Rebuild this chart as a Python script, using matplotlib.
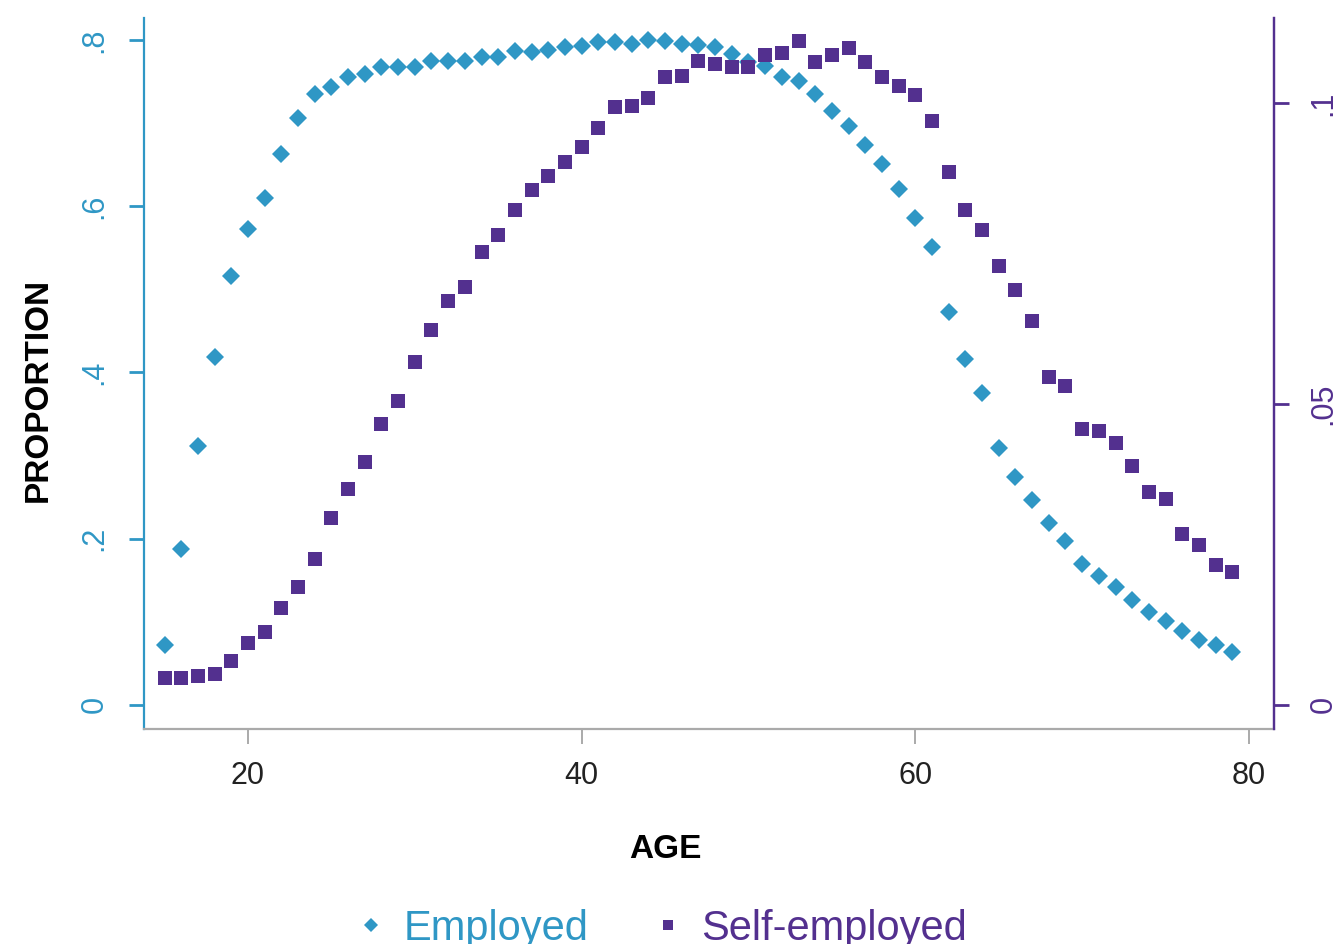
import matplotlib
matplotlib.use("Agg")
import matplotlib.pyplot as plt
from matplotlib.lines import Line2D

# ages 15-79
ages = list(range(15, 80))

employed = [0.072, 0.187, 0.312, 0.419, 0.516, 0.573, 0.610, 0.663, 0.706, 0.735,
            0.744, 0.756, 0.759, 0.768, 0.767, 0.767, 0.775, 0.775, 0.775, 0.779,
            0.779, 0.787, 0.785, 0.788, 0.792, 0.793, 0.797, 0.798, 0.795, 0.800,
            0.799, 0.795, 0.794, 0.791, 0.783, 0.774, 0.769, 0.756, 0.751, 0.735,
            0.715, 0.697, 0.674, 0.651, 0.621, 0.586, 0.551, 0.473, 0.416, 0.375,
            0.309, 0.274, 0.247, 0.219, 0.197, 0.170, 0.155, 0.142, 0.126, 0.112,
            0.101, 0.089, 0.078, 0.072, 0.064]

self_employed = [0.0045, 0.0045, 0.0048, 0.0051, 0.0073, 0.0103, 0.0121, 0.0161, 0.0196, 0.0243,
                 0.0311, 0.0359, 0.0404, 0.0467, 0.0505, 0.0570, 0.0623, 0.0671, 0.0694, 0.0753,
                 0.0781, 0.0822, 0.0855, 0.0879, 0.0902, 0.0927, 0.0958, 0.0993, 0.0995, 0.1008,
                 0.1043, 0.1045, 0.1070, 0.1065, 0.1060, 0.1060, 0.1080, 0.1083, 0.1103, 0.1068,
                 0.1080, 0.1091, 0.1068, 0.1043, 0.1028, 0.1013, 0.0970, 0.0885, 0.0822, 0.0789,
                 0.0729, 0.0689, 0.0638, 0.0545, 0.0530, 0.0458, 0.0455, 0.0435, 0.0397, 0.0354,
                 0.0342, 0.0284, 0.0266, 0.0233, 0.0221]

x_ticks = [20, 40, 60, 80]
left_ticks = [0, 0.2, 0.4, 0.6, 0.8]
left_labels = ["0", ".2", ".4", ".6", ".8"]
right_ticks = [0, 0.05, 0.1]
right_labels = ["0", ".05", ".1"]

BLUE = "#2f97c5"
PURPLE = "#53308f"
GREY = "#aaaaaa"

plt.rcParams['font.family'] = ['Liberation Sans', 'DejaVu Sans']

fig = plt.figure(figsize=(13.37, 9.44), dpi=100)
ax = fig.add_axes([0.1077, 0.2278, 0.8452, 0.7532])
ax2 = ax.twinx()

ax.plot(ages, employed, linestyle='none', marker='D', markersize=9,
        color=BLUE, markeredgewidth=0)
ax2.plot(ages, self_employed, linestyle='none', marker='s', markersize=9.5,
         color=PURPLE, markeredgewidth=0)

ax.set_xlim(13.77, 81.5)
ax.set_ylim(-0.0289, 0.8265)
ax2.set_ylim(-0.004, 0.1141)

ax.set_xticks(x_ticks)
ax.set_yticks(left_ticks)
ax.set_yticklabels(left_labels, rotation=90, va='center')
ax2.set_yticks(right_ticks)
ax2.set_yticklabels(right_labels, rotation=90, va='center')

for a in (ax, ax2):
    a.spines['top'].set_visible(False)
    a.spines['bottom'].set_color(GREY)
    a.spines['left'].set_color(BLUE)
    a.spines['right'].set_color(PURPLE)
    for s in ('bottom', 'left', 'right'):
        a.spines[s].set_linewidth(1.6)
ax2.spines['left'].set_visible(False)
ax2.spines['bottom'].set_visible(False)

ax.tick_params(axis='x', colors=GREY, labelcolor='#222222', labelsize=22,
               length=11, width=1.4, pad=12)
ax.tick_params(axis='y', colors=BLUE, labelcolor=BLUE, labelsize=22,
               length=11, width=2, pad=14)
ax2.tick_params(axis='y', colors=PURPLE, labelcolor=PURPLE, labelsize=22,
                length=11, width=2, pad=14)

ax.set_xlabel('AGE', fontsize=24, fontweight='bold')
ax.set_ylabel('PROPORTION', fontsize=24, fontweight='bold')
ax.xaxis.set_label_coords(0.461, -0.148)
ax.yaxis.set_label_coords(-0.08, 0.477)

handles = [Line2D([], [], linestyle='none', marker='D', markersize=7,
                  color=BLUE, markeredgewidth=0, label='Employed'),
           Line2D([], [], linestyle='none', marker='s', markersize=7,
                  color=PURPLE, markeredgewidth=0, label='Self-employed')]
fig.legend(handles=handles, loc='center', bbox_to_anchor=(0.494, 0.016),
           ncol=2, frameon=False, fontsize=30, labelcolor=[BLUE, PURPLE],
           handletextpad=0.4, columnspacing=1.5, handlelength=0.8)

fig.savefig('out.png', dpi=100)
plt.close(fig)
